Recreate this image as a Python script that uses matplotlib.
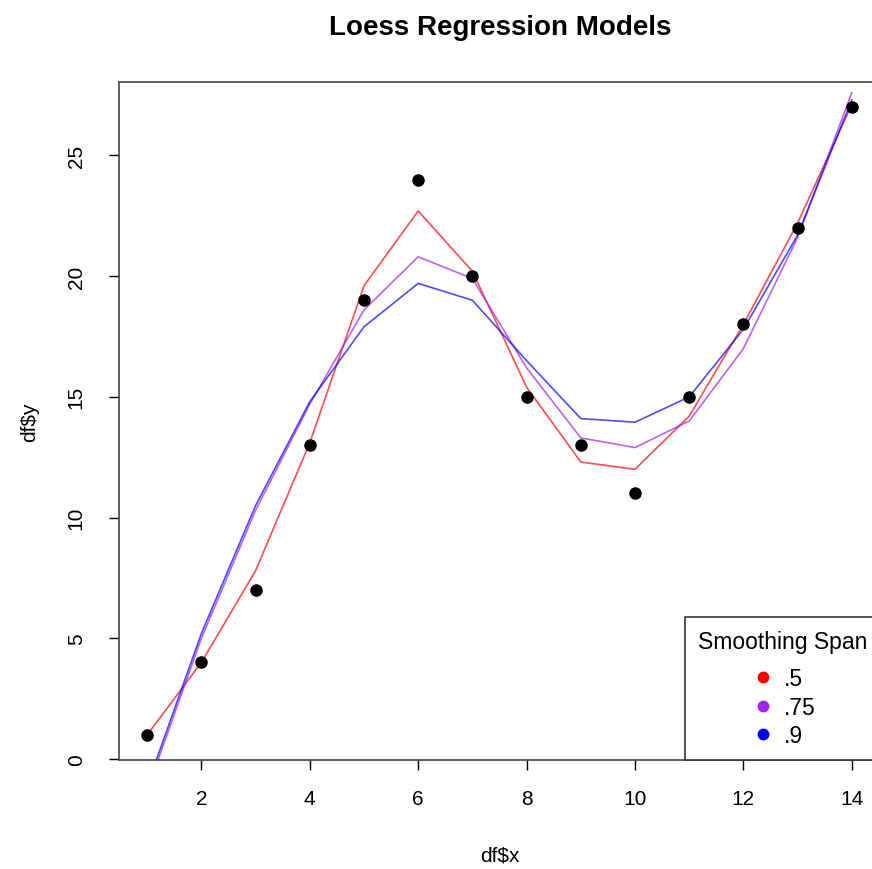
import matplotlib
matplotlib.use("Agg")
import matplotlib.pyplot as plt
from matplotlib.lines import Line2D

plt.rcParams["font.family"] = ["Liberation Sans", "DejaVu Sans"]

# data points
x = [1, 2, 3, 4, 5, 6, 7, 8, 9, 10, 11, 12, 13, 14]
y = [1, 4, 7, 13, 19, 24, 20, 15, 13, 11, 15, 18, 22, 27]

# loess fits (span .5 / .75 / .9)
fit_05 = [1.0, 4.0, 7.8, 13.1, 19.6, 22.7, 20.2, 15.4, 12.3, 12.0, 14.2, 18.0, 22.2, 27.1]
fit_075 = [-1.3, 5.0, 10.3, 14.7, 18.6, 20.8, 19.9, 16.2, 13.3, 12.9, 14.0, 17.0, 21.6, 27.6]
fit_09 = [-1.1, 5.2, 10.5, 14.8, 17.9, 19.7, 19.0, 16.5, 14.1, 13.95, 15.0, 17.8, 21.7, 27.3]

spans = [".5", ".75", ".9"]
colors = ["red", "#A020F0", "blue"]

fig = plt.figure(figsize=(8.72, 8.70), dpi=100)
# plot region runs a little past the right edge, like the cropped original
ax = fig.add_axes([119 / 872, 109 / 870, 761 / 872, 678 / 870])

for fit, c in zip([fit_05, fit_075, fit_09], colors):
    ax.plot(x, fit, color=c, lw=1.2, alpha=0.7)
ax.plot(x, y, "o", color="black", markersize=8)

ax.set_xlim(0.48, 14.52)
ax.set_ylim(-0.04, 28.04)
ax.set_xticks(range(2, 15, 2))
ax.set_yticks(range(0, 26, 5))
ax.tick_params(length=7, width=1, labelsize=15, pad=14)
ax.tick_params(axis="y", pad=17)
for lbl in ax.get_yticklabels():
    lbl.set_rotation(90)
    lbl.set_va("center")
for s in ax.spines.values():
    s.set_color("#444444")
    s.set_linewidth(1.2)

ax.set_xlabel("df$x", fontsize=15, labelpad=27)
ax.set_ylabel("df$y", fontsize=15, labelpad=20)
fig.text(500 / 872, 1 - 28 / 870, "Loess Regression Models", ha="center",
         va="center", fontsize=20, fontweight="bold")

handles = [Line2D([], [], ls="", marker="o", color=c, markersize=7.5) for c in colors]
leg = ax.legend(handles, spans, title="Smoothing Span", loc="lower right",
                bbox_to_anchor=(1, 0), borderaxespad=0, fontsize=16.5,
                title_fontsize=16.5, fancybox=False, framealpha=1,
                edgecolor="#333333", handlelength=1.2, handletextpad=0.3,
                labelspacing=0.25, borderpad=0.55)
leg.get_frame().set_linewidth(1.2)
# a bit more room between the title and the entries
leg._legend_box.sep = 10

fig.savefig("out.png", dpi=100)
